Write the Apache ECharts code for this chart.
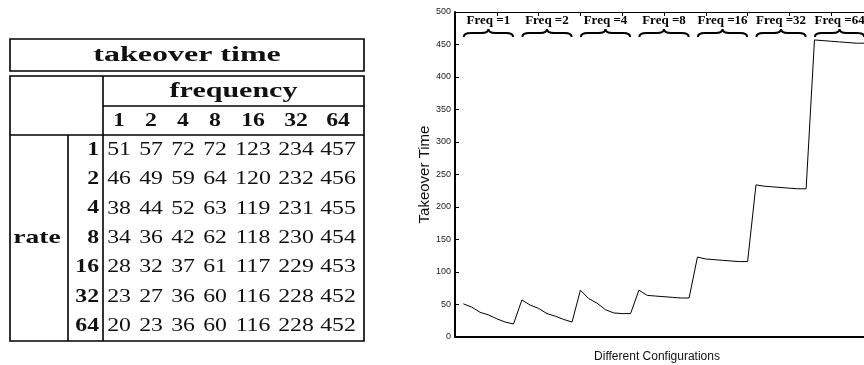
<!DOCTYPE html>
<html>
<head>
<meta charset="utf-8">
<script src="https://cdn.jsdelivr.net/npm/echarts@6/dist/echarts.min.js"></script>
<style>
  html, body { margin: 0; padding: 0; background: #fff; }
  #main { width: 864px; height: 365px; }
</style>
</head>
<body>
<div id="main"></div>
<script>
// Takeover time for each migration frequency, one value per migration rate
const freqs = [1, 2, 4, 8, 16, 32, 64];
const rates = [1, 2, 4, 8, 16, 32, 64];
const freq1 = [51, 46, 38, 34, 28, 23, 20];
const freq2 = [57, 49, 44, 36, 32, 27, 23];
const freq4 = [72, 59, 52, 42, 37, 36, 36];
const freq8 = [72, 64, 63, 62, 61, 60, 60];
const freq16 = [123, 120, 119, 118, 117, 116, 116];
const freq32 = [234, 232, 231, 230, 229, 228, 228];
const freq64 = [457, 456, 455, 454, 453, 452, 452];
const columns = [freq1, freq2, freq4, freq8, freq16, freq32, freq64];

// Configurations in plotting order: frequency groups, rates within each group
const lineData = [];
columns.forEach((col, k) => col.forEach((v, r) => lineData.push([k * 7 + r + 1, v])));
const groupData = freqs.map((f, k) => [k * 7 + 4, f]);

// ---- table geometry ----
const T = {
  left: 10, right: 364,
  titleTop: 39, titleBottom: 71,
  top: 76, freqLine: 106, headBottom: 135, bottom: 341,
  rateCol: 68, dataCol: 103
};
const colCenters = [119, 151, 183, 215, 253, 296, 338];
const rowH = (T.bottom - T.headBottom) / rates.length;
const SERIF = '"Liberation Serif", "DejaVu Serif", serif';
const SX = 1.25;

function txt(x, y, s, opts) {
  opts = opts || {};
  return {
    type: 'text', x: x, y: y, scaleX: opts.sx || SX, silent: true,
    style: {
      text: s, x: 0, y: 0,
      font: (opts.bold ? 'bold ' : '') + (opts.size || 19) + 'px ' + SERIF,
      fill: '#111', align: opts.align || 'center', verticalAlign: 'middle'
    }
  };
}
function hline(x1, x2, y, w) {
  return { type: 'line', silent: true, shape: { x1: x1, y1: y, x2: x2, y2: y }, style: { stroke: '#000', lineWidth: w || 1.6 } };
}
function vline(x, y1, y2, w) {
  return { type: 'line', silent: true, shape: { x1: x, y1: y1, x2: x, y2: y2 }, style: { stroke: '#000', lineWidth: w || 1.6 } };
}

const tableEls = [];
// boxes and rules
tableEls.push({ type: 'rect', silent: true, shape: { x: T.left, y: T.titleTop, width: T.right - T.left, height: T.titleBottom - T.titleTop }, style: { fill: 'none', stroke: '#000', lineWidth: 1.6 } });
tableEls.push({ type: 'rect', silent: true, shape: { x: T.left, y: T.top, width: T.right - T.left, height: T.bottom - T.top }, style: { fill: 'none', stroke: '#000', lineWidth: 1.6 } });
tableEls.push(hline(T.dataCol, T.right, T.freqLine));
tableEls.push(hline(T.left, T.right, T.headBottom));
tableEls.push(vline(T.dataCol, T.top, T.bottom));
tableEls.push(vline(T.rateCol, T.headBottom, T.bottom));
// headings
tableEls.push(txt((T.left + T.right) / 2, (T.titleTop + T.titleBottom) / 2 + 1, 'takeover time', { bold: true, size: 20, sx: 1.6 }));
tableEls.push(txt((T.dataCol + T.right) / 2, (T.top + T.freqLine) / 2 + 1, 'frequency', { bold: true, size: 20, sx: 1.5 }));
freqs.forEach((f, k) => tableEls.push(txt(colCenters[k], (T.freqLine + T.headBottom) / 2 + 1, String(f), { bold: true })));
tableEls.push(txt(37, T.headBottom + rowH * 3.5, 'rate', { bold: true, sx: 1.45 }));
rates.forEach((r, i) => {
  const cy = T.headBottom + rowH * (i + 0.5);
  tableEls.push({
    type: 'text', x: 99, y: cy, scaleX: SX, silent: true,
    style: { text: String(r), x: 0, y: 0, font: 'bold 19px ' + SERIF, fill: '#111', align: 'right', verticalAlign: 'middle' }
  });
  columns.forEach((col, k) => tableEls.push(txt(colCenters[k], cy, String(col[i]))));
});

const SANS = '"Liberation Sans", Arial, Helvetica, sans-serif';
const chart = echarts.init(document.getElementById('main'), null, { renderer: 'canvas' });
chart.setOption({
  animation: false,
  backgroundColor: '#fff',
  graphic: tableEls,
  grid: { left: 455, top: 12, width: 418, height: 325, containLabel: false, outerBoundsMode: 'none' },
  xAxis: [
    {
      type: 'value', min: 0, max: 50, interval: 5, position: 'bottom',
      name: 'Different Configurations', nameLocation: 'middle', nameGap: 14,
      nameTextStyle: { fontFamily: SANS, fontSize: 12, color: '#111', padding: [0, 14, 0, 0] },
      axisLine: { show: true, onZero: false, lineStyle: { color: '#000', width: 2 } },
      axisTick: { show: false }, axisLabel: { show: false }, splitLine: { show: false }
    },
    {
      type: 'value', min: 0, max: 50, interval: 5, position: 'top',
      axisLine: { show: true, onZero: false, lineStyle: { color: '#000', width: 1 } },
      axisTick: { show: true, inside: true, length: 4, lineStyle: { color: '#000', width: 1 } },
      axisLabel: { show: false }, splitLine: { show: false }
    }
  ],
  yAxis: {
    type: 'value', min: 0, max: 500, interval: 50,
    name: 'Takeover Time', nameLocation: 'middle', nameGap: 17, nameRotate: 90,
    nameTextStyle: { fontFamily: SANS, fontSize: 15, color: '#111' },
    axisLine: { show: true, lineStyle: { color: '#000', width: 2 } },
    axisTick: { show: true, inside: true, length: 4, lineStyle: { color: '#000', width: 1 } },
    axisLabel: { fontFamily: SANS, fontSize: 9, color: '#222', margin: 4 },
    splitLine: { show: false }
  },
  series: [
    {
      type: 'line', data: lineData, showSymbol: false, symbol: 'none',
      lineStyle: { color: '#000', width: 1 }, silent: true, clip: false
    },
    {
      type: 'custom', data: groupData, silent: true, clip: false,
      renderItem: function (params, api) {
        const top = api.coord([api.value(0), 500]);
        const half = api.size([2.95, 0])[0];
        const cx = top[0], y0 = top[1];
        const yc = y0 + 17, ya = y0 + 21, yb = y0 + 25;
        const path = 'M' + (cx - half) + ',' + yb +
          ' Q' + (cx - half) + ',' + ya + ' ' + (cx - half + 7) + ',' + ya +
          ' L' + (cx - 7) + ',' + ya +
          ' Q' + cx + ',' + ya + ' ' + cx + ',' + yc +
          ' Q' + cx + ',' + ya + ' ' + (cx + 7) + ',' + ya +
          ' L' + (cx + half - 7) + ',' + ya +
          ' Q' + (cx + half) + ',' + ya + ' ' + (cx + half) + ',' + yb;
        return {
          type: 'group',
          children: [
            { type: 'path', shape: { pathData: path }, style: { fill: 'none', stroke: '#000', lineWidth: 2 } },
            {
              type: 'text',
              style: {
                text: 'Freq =' + api.value(1), x: cx, y: y0 + 9,
                font: 'bold 13px ' + SERIF, fill: '#000', align: 'center', verticalAlign: 'middle'
              }
            }
          ]
        };
      }
    }
  ]
});
</script>
</body>
</html>
